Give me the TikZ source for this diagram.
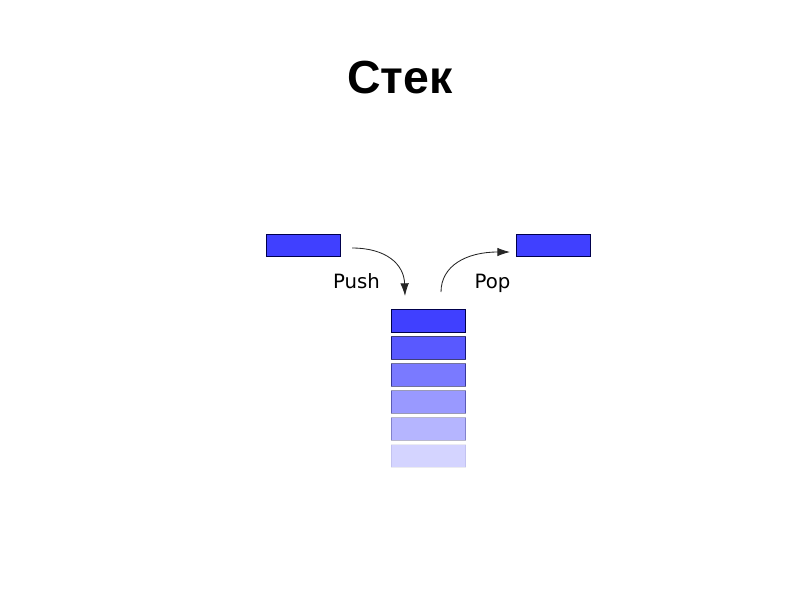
\documentclass[tikz,border=0pt]{standalone}
\usepackage{fontspec}
\setmainfont{DejaVu Sans}
\newfontfamily\titlefont{Liberation Sans}
\usepackage{xcolor}
\usetikzlibrary{positioning,arrows.meta}

\tikzset{
  item/.style={draw,shape=rectangle,inner sep=0pt,minimum width=1.85cm,minimum height=0.56cm,line width=0.7pt},
  flow/.style={draw=black!85,line width=0.6pt,-{Latex[length=9pt,width=6pt]}},
  lbl/.style={anchor=base,font=\fontsize{14}{16}\selectfont}
}

\begin{document}
\begin{tikzpicture}[x=0.025cm,y=-0.025cm]
\useasboundingbox (0,0) rectangle (800,600);
      \draw node (title) at (400,93) [anchor=base,font=\titlefont\bfseries\fontsize{33}{40}\selectfont]{Стек};
      \draw node (srcbox) at (303,245.5) [item,fill=blue!75!white,draw=blue!30!black]{};
      \draw node (dstbox) at (553.5,245.5) [item,fill=blue!75!white,draw=blue!30!black]{};
\draw node foreach \i/\f/\e in {1/75/1,2/65/0.75,3/52/0.55,4/40/0.4,5/29/0.28,6/17/0.08}
  (s\i) at (428.5,{321+27*(\i-1)}) [item,fill=blue!\f!white,draw=blue!30!black,draw opacity=\e]{};

\draw node (push) at (356.5,288) [lbl]{Push};
\draw node (pop) at (492.5,288) [lbl]{Pop};
\coordinate (pushstart) at (352,248);
\coordinate (pushend) at (405,296);
\coordinate (popstart) at (441,292);
\coordinate (popend) at (510,252);
\draw[flow] (pushstart) .. controls (386,248) and (404,264) .. (pushend);
\draw[flow] (popstart) .. controls (441,266) and (466,252) .. (popend);
\end{tikzpicture}
\end{document}
